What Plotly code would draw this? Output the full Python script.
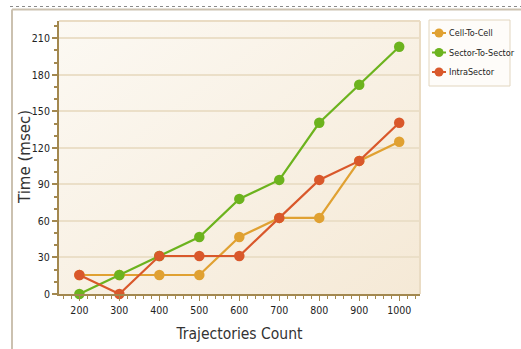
import base64
import plotly.graph_objects as go

# Trajectory counts and measured times (ms, ~15.6 ms timer resolution)
counts = [200, 300, 400, 500, 600, 700, 800, 900, 1000]
cell_to_cell = [15.6, 15.6, 15.6, 15.6, 46.8, 62.5, 62.5, 109.3, 125.0]
sector_to_sector = [0.0, 15.6, 31.2, 46.8, 78.1, 93.7, 140.6, 171.8, 203.1]
intra_sector = [15.6, 0.0, 31.2, 31.2, 31.2, 62.5, 93.7, 109.3, 140.6]

series_names = ["Cell-To-Cell", "Sector-To-Sector", "IntraSector"]
series_values = [cell_to_cell, sector_to_sector, intra_sector]
series_colors = ["#e0a132", "#6cb31e", "#d9582b"]

y_ticks = [0, 30, 60, 90, 120, 150, 180, 210]
x_ticks = counts

W, H = 521, 349
L, R, T, B = 59, 101, 21, 55
plot_w = W - L - R
plot_h = H - T - B


def px_x(px):
    return (px - L) / plot_w


def px_y(py):
    return (H - B - py) / plot_h


fig = go.Figure()
for name, vals, col in zip(series_names, series_values, series_colors):
    fig.add_trace(go.Scatter(
        x=counts, y=vals, name=name, mode="lines+markers",
        line=dict(color=col, width=2.2),
        marker=dict(color=col, size=10.5, line=dict(width=0)),
        cliponaxis=False, showlegend=False,
    ))

# soft diagonal gradient behind the plot area
svg = (
    '<svg xmlns="http://www.w3.org/2000/svg" width="400" height="300" preserveAspectRatio="none">'
    '<defs><linearGradient id="g" x1="0" y1="0" x2="1" y2="1">'
    '<stop offset="0" stop-color="#fcf9f3"/><stop offset="1" stop-color="#f5e9d6"/>'
    '</linearGradient></defs><rect width="400" height="300" fill="url(#g)"/></svg>'
)
bg_src = "data:image/svg+xml;base64," + base64.b64encode(svg.encode()).decode()

narrow = "DejaVu Sans Condensed, Liberation Sans Narrow, sans-serif"
tick_font = dict(family=narrow, size=10.5, color="#222")
axis_col = "#a3884f"

fig.update_layout(
    width=W, height=H,
    margin=dict(l=L, r=R, t=T, b=B, autoexpand=False),
    paper_bgcolor="white",
    plot_bgcolor="rgba(0,0,0,0)",
    images=[dict(source=bg_src, xref="paper", yref="paper", x=0, y=1,
                 sizex=1, sizey=1, sizing="stretch", layer="below",
                 xanchor="left", yanchor="top")],
    xaxis=dict(
        range=[149, 1052], tickmode="array", tickvals=x_ticks,
        ticks="outside", ticklen=5, tickcolor=axis_col, tickwidth=1,
        minor=dict(dtick=20, tick0=0, ticks="outside", ticklen=3, tickcolor=axis_col, showgrid=False),
        showline=True, linecolor=axis_col, linewidth=2,
        showgrid=False, zeroline=False, tickfont=tick_font,
        title=dict(text="Trajectories Count", standoff=14,
                   font=dict(family=narrow, size=15.5, color="#333")),
    ),
    yaxis=dict(
        range=[0, 224.2], tickmode="array", tickvals=y_ticks,
        ticks="outside", ticklen=5, tickcolor=axis_col, tickwidth=2,
        minor=dict(dtick=10, tick0=0, ticks="outside", ticklen=3, tickcolor=axis_col, showgrid=False),
        showline=True, linecolor=axis_col, linewidth=2,
        showgrid=True, gridcolor="#ebdfc8", gridwidth=1.5, zeroline=False,
        tickfont=tick_font,
    ),
    showlegend=False,
)

# y-axis title
fig.add_annotation(xref="paper", yref="paper", x=px_x(25), y=px_y(157),
                   xanchor="center", yanchor="middle", textangle=-90, showarrow=False,
                   text="Time (msec)",
                   font=dict(family="DejaVu Sans, Verdana, sans-serif", size=15, color="#333"))

# light border on the top and right of the plot area
fig.add_shape(type="line", xref="paper", yref="paper", x0=0, x1=1, y0=1, y1=1,
              line=dict(color="#eadcc4", width=2))
fig.add_shape(type="line", xref="paper", yref="paper", x0=1, x1=1, y0=0, y1=1,
              line=dict(color="#eadcc4", width=2))

# legend box drawn beside the plot
fig.add_shape(type="rect", xref="paper", yref="paper",
              x0=px_x(429), x1=px_x(510), y0=px_y(86), y1=px_y(20),
              line=dict(color="#e2d6bf", width=1), fillcolor="#fefcf9")
for i, (name, col) in enumerate(zip(series_names, series_colors)):
    cy = 33 + i * 19.5
    fig.add_shape(type="line", xref="paper", yref="paper",
                  x0=px_x(432), x1=px_x(446), y0=px_y(cy), y1=px_y(cy),
                  line=dict(color=col, width=2))
    fig.add_shape(type="circle", xref="paper", yref="paper",
                  x0=px_x(434.5), x1=px_x(443.5), y0=px_y(cy + 4.5), y1=px_y(cy - 4.5),
                  line=dict(width=0), fillcolor=col)
    fig.add_annotation(xref="paper", yref="paper", x=px_x(447), y=px_y(cy),
                       xanchor="left", yanchor="middle", showarrow=False, text=name,
                       font=dict(family=narrow, size=9, color="#222"))

# outer panel frame
fig.add_shape(type="line", xref="paper", yref="paper",
              x0=px_x(12), x1=px_x(12), y0=px_y(9.5), y1=px_y(349),
              line=dict(color="#cbc1b0", width=2))
fig.add_shape(type="line", xref="paper", yref="paper",
              x0=px_x(12), x1=px_x(521), y0=px_y(9.5), y1=px_y(9.5),
              line=dict(color="#cbc1b0", width=2))
fig.add_shape(type="line", xref="paper", yref="paper",
              x0=px_x(10), x1=px_x(521), y0=px_y(6.5), y1=px_y(6.5),
              line=dict(color="#8a8a8a", width=1, dash="dot"))

fig.write_html("out.html")
